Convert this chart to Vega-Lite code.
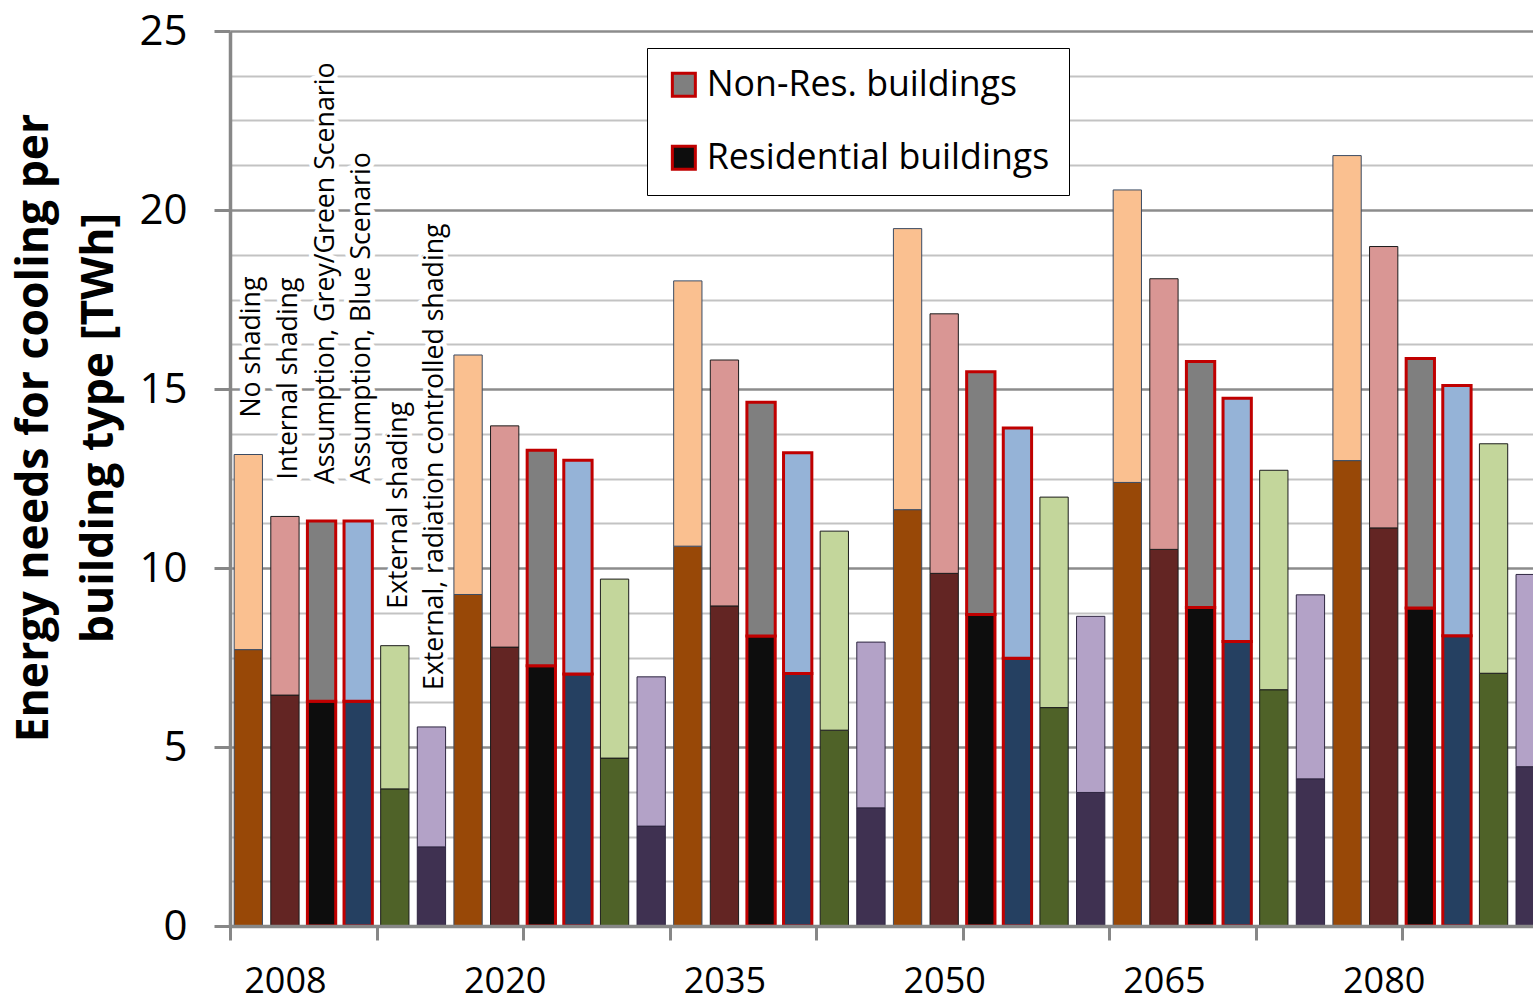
{
  "$schema": "https://vega.github.io/schema/vega-lite/v6.json",
  "autosize": {"type": "none"},
  "padding": {"left": 230, "top": 31, "right": 0, "bottom": 76},
  "width": 1303,
  "height": 895,
  "background": "white",
  "config": {"view": {"stroke": null}, "font": "Open Sans", "legend": {"symbolStrokeWidth": 3}},
  "data": {
    "values": [
      {"year": "2008", "key": "2008-1", "scenario": "No shading", "part": "Residential buildings", "series": "No shading | Residential", "value": 7.72},
      {"year": "2008", "key": "2008-1", "scenario": "No shading", "part": "Non-Res. buildings", "series": "No shading | Non-Res.", "value": 5.45},
      {"year": "2008", "key": "2008-2", "scenario": "Internal shading", "part": "Residential buildings", "series": "Internal shading | Residential", "value": 6.45},
      {"year": "2008", "key": "2008-2", "scenario": "Internal shading", "part": "Non-Res. buildings", "series": "Internal shading | Non-Res.", "value": 4.99},
      {"year": "2008", "key": "2008-3", "scenario": "Assumption, Grey/Green Scenario", "part": "Residential buildings", "series": "Assumption, Grey/Green Scenario | Residential", "value": 6.28},
      {"year": "2008", "key": "2008-3", "scenario": "Assumption, Grey/Green Scenario", "part": "Non-Res. buildings", "series": "Assumption, Grey/Green Scenario | Non-Res.", "value": 5.03},
      {"year": "2008", "key": "2008-4", "scenario": "Assumption, Blue Scenario", "part": "Residential buildings", "series": "Assumption, Blue Scenario | Residential", "value": 6.28},
      {"year": "2008", "key": "2008-4", "scenario": "Assumption, Blue Scenario", "part": "Non-Res. buildings", "series": "Assumption, Blue Scenario | Non-Res.", "value": 5.03},
      {"year": "2008", "key": "2008-5", "scenario": "External shading", "part": "Residential buildings", "series": "External shading | Residential", "value": 3.83},
      {"year": "2008", "key": "2008-5", "scenario": "External shading", "part": "Non-Res. buildings", "series": "External shading | Non-Res.", "value": 4.0},
      {"year": "2008", "key": "2008-6", "scenario": "External, radiation controlled shading", "part": "Residential buildings", "series": "External, radiation controlled shading | Residential", "value": 2.21},
      {"year": "2008", "key": "2008-6", "scenario": "External, radiation controlled shading", "part": "Non-Res. buildings", "series": "External, radiation controlled shading | Non-Res.", "value": 3.35},

      {"year": "2020", "key": "2020-1", "scenario": "No shading", "part": "Residential buildings", "series": "No shading | Residential", "value": 9.26},
      {"year": "2020", "key": "2020-1", "scenario": "No shading", "part": "Non-Res. buildings", "series": "No shading | Non-Res.", "value": 6.69},
      {"year": "2020", "key": "2020-2", "scenario": "Internal shading", "part": "Residential buildings", "series": "Internal shading | Residential", "value": 7.79},
      {"year": "2020", "key": "2020-2", "scenario": "Internal shading", "part": "Non-Res. buildings", "series": "Internal shading | Non-Res.", "value": 6.18},
      {"year": "2020", "key": "2020-3", "scenario": "Assumption, Grey/Green Scenario", "part": "Residential buildings", "series": "Assumption, Grey/Green Scenario | Residential", "value": 7.27},
      {"year": "2020", "key": "2020-3", "scenario": "Assumption, Grey/Green Scenario", "part": "Non-Res. buildings", "series": "Assumption, Grey/Green Scenario | Non-Res.", "value": 6.02},
      {"year": "2020", "key": "2020-4", "scenario": "Assumption, Blue Scenario", "part": "Residential buildings", "series": "Assumption, Blue Scenario | Residential", "value": 7.04},
      {"year": "2020", "key": "2020-4", "scenario": "Assumption, Blue Scenario", "part": "Non-Res. buildings", "series": "Assumption, Blue Scenario | Non-Res.", "value": 5.97},
      {"year": "2020", "key": "2020-5", "scenario": "External shading", "part": "Residential buildings", "series": "External shading | Residential", "value": 4.69},
      {"year": "2020", "key": "2020-5", "scenario": "External shading", "part": "Non-Res. buildings", "series": "External shading | Non-Res.", "value": 5.0},
      {"year": "2020", "key": "2020-6", "scenario": "External, radiation controlled shading", "part": "Residential buildings", "series": "External, radiation controlled shading | Residential", "value": 2.79},
      {"year": "2020", "key": "2020-6", "scenario": "External, radiation controlled shading", "part": "Non-Res. buildings", "series": "External, radiation controlled shading | Non-Res.", "value": 4.17},

      {"year": "2035", "key": "2035-1", "scenario": "No shading", "part": "Residential buildings", "series": "No shading | Residential", "value": 10.61},
      {"year": "2035", "key": "2035-1", "scenario": "No shading", "part": "Non-Res. buildings", "series": "No shading | Non-Res.", "value": 7.41},
      {"year": "2035", "key": "2035-2", "scenario": "Internal shading", "part": "Residential buildings", "series": "Internal shading | Residential", "value": 8.94},
      {"year": "2035", "key": "2035-2", "scenario": "Internal shading", "part": "Non-Res. buildings", "series": "Internal shading | Non-Res.", "value": 6.87},
      {"year": "2035", "key": "2035-3", "scenario": "Assumption, Grey/Green Scenario", "part": "Residential buildings", "series": "Assumption, Grey/Green Scenario | Residential", "value": 8.1},
      {"year": "2035", "key": "2035-3", "scenario": "Assumption, Grey/Green Scenario", "part": "Non-Res. buildings", "series": "Assumption, Grey/Green Scenario | Non-Res.", "value": 6.53},
      {"year": "2035", "key": "2035-4", "scenario": "Assumption, Blue Scenario", "part": "Residential buildings", "series": "Assumption, Blue Scenario | Residential", "value": 7.05},
      {"year": "2035", "key": "2035-4", "scenario": "Assumption, Blue Scenario", "part": "Non-Res. buildings", "series": "Assumption, Blue Scenario | Non-Res.", "value": 6.17},
      {"year": "2035", "key": "2035-5", "scenario": "External shading", "part": "Residential buildings", "series": "External shading | Residential", "value": 5.47},
      {"year": "2035", "key": "2035-5", "scenario": "External shading", "part": "Non-Res. buildings", "series": "External shading | Non-Res.", "value": 5.56},
      {"year": "2035", "key": "2035-6", "scenario": "External, radiation controlled shading", "part": "Residential buildings", "series": "External, radiation controlled shading | Residential", "value": 3.3},
      {"year": "2035", "key": "2035-6", "scenario": "External, radiation controlled shading", "part": "Non-Res. buildings", "series": "External, radiation controlled shading | Non-Res.", "value": 4.63},

      {"year": "2050", "key": "2050-1", "scenario": "No shading", "part": "Residential buildings", "series": "No shading | Residential", "value": 11.63},
      {"year": "2050", "key": "2050-1", "scenario": "No shading", "part": "Non-Res. buildings", "series": "No shading | Non-Res.", "value": 7.85},
      {"year": "2050", "key": "2050-2", "scenario": "Internal shading", "part": "Residential buildings", "series": "Internal shading | Residential", "value": 9.85},
      {"year": "2050", "key": "2050-2", "scenario": "Internal shading", "part": "Non-Res. buildings", "series": "Internal shading | Non-Res.", "value": 7.25},
      {"year": "2050", "key": "2050-3", "scenario": "Assumption, Grey/Green Scenario", "part": "Residential buildings", "series": "Assumption, Grey/Green Scenario | Residential", "value": 8.7},
      {"year": "2050", "key": "2050-3", "scenario": "Assumption, Grey/Green Scenario", "part": "Non-Res. buildings", "series": "Assumption, Grey/Green Scenario | Non-Res.", "value": 6.78},
      {"year": "2050", "key": "2050-4", "scenario": "Assumption, Blue Scenario", "part": "Residential buildings", "series": "Assumption, Blue Scenario | Residential", "value": 7.48},
      {"year": "2050", "key": "2050-4", "scenario": "Assumption, Blue Scenario", "part": "Non-Res. buildings", "series": "Assumption, Blue Scenario | Non-Res.", "value": 6.43},
      {"year": "2050", "key": "2050-5", "scenario": "External shading", "part": "Residential buildings", "series": "External shading | Residential", "value": 6.1},
      {"year": "2050", "key": "2050-5", "scenario": "External shading", "part": "Non-Res. buildings", "series": "External shading | Non-Res.", "value": 5.88},
      {"year": "2050", "key": "2050-6", "scenario": "External, radiation controlled shading", "part": "Residential buildings", "series": "External, radiation controlled shading | Residential", "value": 3.73},
      {"year": "2050", "key": "2050-6", "scenario": "External, radiation controlled shading", "part": "Non-Res. buildings", "series": "External, radiation controlled shading | Non-Res.", "value": 4.92},

      {"year": "2065", "key": "2065-1", "scenario": "No shading", "part": "Residential buildings", "series": "No shading | Residential", "value": 12.39},
      {"year": "2065", "key": "2065-1", "scenario": "No shading", "part": "Non-Res. buildings", "series": "No shading | Non-Res.", "value": 8.17},
      {"year": "2065", "key": "2065-2", "scenario": "Internal shading", "part": "Residential buildings", "series": "Internal shading | Residential", "value": 10.52},
      {"year": "2065", "key": "2065-2", "scenario": "Internal shading", "part": "Non-Res. buildings", "series": "Internal shading | Non-Res.", "value": 7.56},
      {"year": "2065", "key": "2065-3", "scenario": "Assumption, Grey/Green Scenario", "part": "Residential buildings", "series": "Assumption, Grey/Green Scenario | Residential", "value": 8.9},
      {"year": "2065", "key": "2065-3", "scenario": "Assumption, Grey/Green Scenario", "part": "Non-Res. buildings", "series": "Assumption, Grey/Green Scenario | Non-Res.", "value": 6.87},
      {"year": "2065", "key": "2065-4", "scenario": "Assumption, Blue Scenario", "part": "Residential buildings", "series": "Assumption, Blue Scenario | Residential", "value": 7.95},
      {"year": "2065", "key": "2065-4", "scenario": "Assumption, Blue Scenario", "part": "Non-Res. buildings", "series": "Assumption, Blue Scenario | Non-Res.", "value": 6.79},
      {"year": "2065", "key": "2065-5", "scenario": "External shading", "part": "Residential buildings", "series": "External shading | Residential", "value": 6.6},
      {"year": "2065", "key": "2065-5", "scenario": "External shading", "part": "Non-Res. buildings", "series": "External shading | Non-Res.", "value": 6.13},
      {"year": "2065", "key": "2065-6", "scenario": "External, radiation controlled shading", "part": "Residential buildings", "series": "External, radiation controlled shading | Residential", "value": 4.11},
      {"year": "2065", "key": "2065-6", "scenario": "External, radiation controlled shading", "part": "Non-Res. buildings", "series": "External, radiation controlled shading | Non-Res.", "value": 5.14},

      {"year": "2080", "key": "2080-1", "scenario": "No shading", "part": "Residential buildings", "series": "No shading | Residential", "value": 13.0},
      {"year": "2080", "key": "2080-1", "scenario": "No shading", "part": "Non-Res. buildings", "series": "No shading | Non-Res.", "value": 8.52},
      {"year": "2080", "key": "2080-2", "scenario": "Internal shading", "part": "Residential buildings", "series": "Internal shading | Residential", "value": 11.12},
      {"year": "2080", "key": "2080-2", "scenario": "Internal shading", "part": "Non-Res. buildings", "series": "Internal shading | Non-Res.", "value": 7.86},
      {"year": "2080", "key": "2080-3", "scenario": "Assumption, Grey/Green Scenario", "part": "Residential buildings", "series": "Assumption, Grey/Green Scenario | Residential", "value": 8.88},
      {"year": "2080", "key": "2080-3", "scenario": "Assumption, Grey/Green Scenario", "part": "Non-Res. buildings", "series": "Assumption, Grey/Green Scenario | Non-Res.", "value": 6.97},
      {"year": "2080", "key": "2080-4", "scenario": "Assumption, Blue Scenario", "part": "Residential buildings", "series": "Assumption, Blue Scenario | Residential", "value": 8.11},
      {"year": "2080", "key": "2080-4", "scenario": "Assumption, Blue Scenario", "part": "Non-Res. buildings", "series": "Assumption, Blue Scenario | Non-Res.", "value": 6.99},
      {"year": "2080", "key": "2080-5", "scenario": "External shading", "part": "Residential buildings", "series": "External shading | Residential", "value": 7.06},
      {"year": "2080", "key": "2080-5", "scenario": "External shading", "part": "Non-Res. buildings", "series": "External shading | Non-Res.", "value": 6.41},
      {"year": "2080", "key": "2080-6", "scenario": "External, radiation controlled shading", "part": "Residential buildings", "series": "External, radiation controlled shading | Residential", "value": 4.45},
      {"year": "2080", "key": "2080-6", "scenario": "External, radiation controlled shading", "part": "Non-Res. buildings", "series": "External, radiation controlled shading | Non-Res.", "value": 5.37}
    ]
  },
  "layer": [
    {
      "transform": [
        {"filter": "datum.year === '2008'"},
        {"aggregate": [{"op": "sum", "field": "value", "as": "total"}], "groupby": ["key", "scenario"]}
      ],
      "mark": {"type": "text", "angle": 270, "align": "left", "baseline": "alphabetic", "dx": 37, "dy": 12, "font": "Open Sans", "fontSize": 26.7, "fill": "white", "stroke": "white", "strokeWidth": 10, "strokeJoin": "round"},
      "encoding": {
        "x": {"field": "key", "type": "nominal", "title": null},
        "y": {"field": "total", "type": "quantitative", "title": ["Energy needs for cooling per", "building type [TWh]"]},
        "text": {"field": "scenario"}
      }
    },
    {
      "mark": {"type": "bar"},
      "encoding": {
        "x": {
          "field": "key",
          "type": "nominal",
          "title": null,
          "scale": {"range": [0, 1318.5], "paddingInner": 0.227, "paddingOuter": 0.1135},
          "axis": {
            "values": ["2008-1", "2008-2", "2008-5", "2020-2", "2020-3", "2035-1", "2035-2", "2035-5", "2050-2", "2050-3", "2065-1", "2065-2", "2065-5", "2080-2", "2080-3"],
            "bandPosition": 0.5,
            "tickOffset": -18.31,
            "labelOffset": 18.31,
            "tickSize": 14,
            "tickWidth": 3,
            "tickColor": "#878787",
            "tickOpacity": {"condition": {"test": "indexof(['2008-2','2020-2','2035-2','2050-2','2065-2','2080-2'], datum.value) >= 0", "value": 0}, "value": 1},
            "labelExpr": "indexof(['2008-2','2020-2','2035-2','2050-2','2065-2','2080-2'], datum.value) >= 0 ? substring(datum.value, 0, 4) : ''",
            "labelFont": "Open Sans",
            "labelFontSize": 36,
            "labelColor": "black",
            "labelAngle": 0,
            "labelAlign": "center",
            "labelPadding": 41,
            "labelOverlap": false,
            "labelFlush": false,
            "domainColor": "#878787",
            "domainWidth": 3.5,
            "grid": false,
            "zindex": 1
          }
        },
        "y": {
          "field": "value",
          "type": "quantitative",
          "stack": "zero",
          "title": ["Energy needs for cooling per", "building type [TWh]"],
          "scale": {"domain": [0, 25], "nice": false},
          "axis": {
            "values": [0, 1.25, 2.5, 3.75, 5, 6.25, 7.5, 8.75, 10, 11.25, 12.5, 13.75, 15, 16.25, 17.5, 18.75, 20, 21.25, 22.5, 23.75, 25],
            "titleFont": "Open Sans",
            "titleFontSize": 44.5,
            "titleFontWeight": "bold",
            "titleColor": "black",
            "titleAngle": 270,
            "titleX": -183,
            "titleY": 396.5,
            "titleAlign": "center",
            "titleBaseline": "alphabetic",
            "titleLineHeight": 65,
            "labelFont": "Open Sans",
            "labelFontSize": 42,
            "labelColor": "black",
            "labelPadding": 27,
            "labelBaseline": "middle",
            "labelExpr": "datum.value % 5 === 0 ? format(datum.value, 'd') : ''",
            "labelOverlap": false,
            "labelFlush": false,
            "domainColor": "#878787",
            "domainWidth": 3.5,
            "tickColor": "#878787",
            "tickWidth": 3,
            "tickSize": 16,
            "tickOpacity": {"condition": {"test": "datum.value % 5 === 0", "value": 1}, "value": 0},
            "grid": true,
            "gridColor": {"condition": {"test": "datum.value % 5 === 0", "value": "#8c8c8c"}, "value": "#c3c3c3"},
            "gridWidth": {"condition": {"test": "datum.value % 5 === 0", "value": 2.6}, "value": 1.8}
          }
        },
        "fill": {
          "field": "series",
          "type": "nominal",
          "legend": null,
          "scale": {
            "domain": [
              "No shading | Residential", "No shading | Non-Res.",
              "Internal shading | Residential", "Internal shading | Non-Res.",
              "Assumption, Grey/Green Scenario | Residential", "Assumption, Grey/Green Scenario | Non-Res.",
              "Assumption, Blue Scenario | Residential", "Assumption, Blue Scenario | Non-Res.",
              "External shading | Residential", "External shading | Non-Res.",
              "External, radiation controlled shading | Residential", "External, radiation controlled shading | Non-Res."
            ],
            "range": ["#984807", "#FAC090", "#632523", "#D99694", "#0D0D0D", "#7F7F7F", "#254061", "#95B3D7", "#4F6228", "#C3D69B", "#3F3151", "#B3A2C7"]
          }
        },
        "stroke": {
          "field": "scenario",
          "type": "nominal",
          "legend": null,
          "scale": {
            "domain": ["No shading", "Internal shading", "Assumption, Grey/Green Scenario", "Assumption, Blue Scenario", "External shading", "External, radiation controlled shading"],
            "range": ["#3b4b63", "#1c1c1c", "#C00000", "#C00000", "#1c1c1c", "#2e2640"]
          }
        },
        "strokeWidth": {
          "field": "scenario",
          "type": "nominal",
          "legend": null,
          "scale": {
            "type": "ordinal",
            "domain": ["No shading", "Internal shading", "Assumption, Grey/Green Scenario", "Assumption, Blue Scenario", "External shading", "External, radiation controlled shading"],
            "range": [1, 1, 3, 3, 1, 1]
          }
        },
        "order": {"field": "part", "sort": "descending"}
      }
    },
    {
      "transform": [
        {"filter": "datum.year === '2008'"},
        {"aggregate": [{"op": "sum", "field": "value", "as": "total"}], "groupby": ["key", "scenario"]}
      ],
      "mark": {"type": "text", "angle": 270, "align": "left", "baseline": "alphabetic", "dx": 37, "dy": 12, "font": "Open Sans", "fontSize": 26.7, "fill": "black"},
      "encoding": {
        "x": {"field": "key", "type": "nominal", "title": null},
        "y": {"field": "total", "type": "quantitative", "title": ["Energy needs for cooling per", "building type [TWh]"]},
        "text": {"field": "scenario"}
      }
    },
    {
      "mark": {"type": "square", "opacity": 0, "stroke": "#C00000", "strokeWidth": 3},
      "encoding": {
        "x": {"field": "key", "type": "nominal", "title": null},
        "y": {"field": "value", "type": "quantitative", "title": ["Energy needs for cooling per", "building type [TWh]"]},
        "color": {
          "field": "part",
          "type": "nominal",
          "scale": {"domain": ["Non-Res. buildings", "Residential buildings"], "range": ["#7F7F7F", "#0D0D0D"]},
          "legend": {
            "title": null,
            "orient": "none",
            "legendX": 417,
            "legendY": 17,
            "direction": "vertical",
            "symbolType": "square",
            "symbolSize": 529,
            "symbolStrokeColor": "#C00000",
            "symbolStrokeWidth": 3,
            "symbolOpacity": 1,
            "labelFont": "Open Sans",
            "labelFontSize": 35.7,
            "labelColor": "black",
            "labelOffset": 5,
            "labelLimit": 0,
            "rowPadding": 36,
            "padding": 19,
            "strokeColor": "black",
            "fillColor": "white"
          }
        }
      }
    }
  ]
}
